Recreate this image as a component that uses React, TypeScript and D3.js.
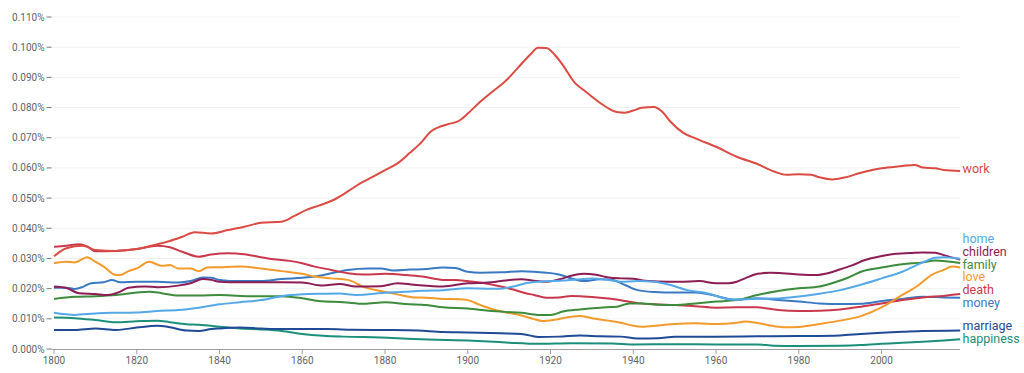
import React from "react";
import * as d3 from "d3";

// ngram frequencies, in percent
type Pt = [number, number];

const work: Pt[] = [
  [1800, 0.0307], [1803, 0.0334], [1807, 0.0342], [1810, 0.0328], [1815, 0.0325], [1820, 0.0331],
  [1825, 0.0347], [1828, 0.0358], [1831, 0.0372], [1834, 0.0387], [1838, 0.0383], [1842, 0.0394],
  [1846, 0.0405], [1850, 0.0418], [1855, 0.0422], [1858, 0.044], [1861, 0.0461], [1864, 0.0475],
  [1868, 0.0497], [1871, 0.0522], [1874, 0.0549], [1877, 0.057], [1880, 0.0593], [1883, 0.0615],
  [1886, 0.065], [1889, 0.0688], [1891, 0.072], [1893, 0.0735], [1895, 0.0744], [1898, 0.0757],
  [1900, 0.078], [1903, 0.0819], [1906, 0.0853], [1909, 0.0886], [1912, 0.093], [1915, 0.0974],
  [1917, 0.0998], [1919, 0.0997], [1921, 0.0975], [1923, 0.094], [1926, 0.088], [1928, 0.0858],
  [1930, 0.0836], [1932, 0.0815], [1934, 0.0797], [1936, 0.0785], [1938, 0.0783], [1940, 0.079],
  [1942, 0.0799], [1945, 0.0802], [1947, 0.0786], [1949, 0.0753], [1952, 0.0717], [1955, 0.0698],
  [1960, 0.067], [1965, 0.0637], [1970, 0.0613], [1974, 0.0588], [1977, 0.0577], [1980, 0.0579],
  [1983, 0.0577], [1985, 0.0569], [1988, 0.0562], [1991, 0.0568], [1995, 0.0584], [2000, 0.0599],
  [2005, 0.0606], [2008, 0.061], [2010, 0.0601], [2013, 0.0599], [2015, 0.0593], [2019, 0.059],
];

const home: Pt[] = [
  [1800, 0.012], [1805, 0.0113], [1810, 0.0118], [1815, 0.012], [1820, 0.0121], [1825, 0.0126],
  [1830, 0.0129], [1835, 0.0137], [1840, 0.0148], [1845, 0.0155], [1850, 0.0162], [1855, 0.0175],
  [1860, 0.0181], [1865, 0.0183], [1869, 0.0184], [1873, 0.0179], [1880, 0.0186], [1885, 0.019],
  [1889, 0.0193], [1894, 0.0195], [1900, 0.0201], [1905, 0.02], [1908, 0.02], [1911, 0.0207],
  [1914, 0.0218], [1917, 0.0223], [1920, 0.0225], [1923, 0.0227], [1927, 0.0231], [1930, 0.0234],
  [1934, 0.0229], [1937, 0.0223], [1941, 0.0225], [1945, 0.0223], [1949, 0.0212], [1953, 0.0195],
  [1958, 0.0184], [1962, 0.0168], [1965, 0.0163], [1968, 0.0166], [1974, 0.0167], [1980, 0.0174],
  [1985, 0.0183], [1990, 0.0195], [1995, 0.0213], [2000, 0.0234], [2005, 0.0256], [2010, 0.0287],
  [2013, 0.0302], [2015, 0.0304], [2019, 0.0299],
];

const children: Pt[] = [
  [1800, 0.0207], [1803, 0.0202], [1806, 0.0185], [1810, 0.0182], [1813, 0.0179], [1816, 0.019],
  [1818, 0.0203], [1822, 0.0207], [1825, 0.0205], [1830, 0.021], [1833, 0.0218], [1836, 0.0232],
  [1838, 0.0229], [1840, 0.0223], [1845, 0.0221], [1850, 0.0221], [1855, 0.0221], [1860, 0.022],
  [1865, 0.021], [1869, 0.0215], [1873, 0.0207], [1879, 0.0208], [1883, 0.0218], [1887, 0.0213],
  [1894, 0.0207], [1900, 0.0218], [1905, 0.022], [1908, 0.0225], [1913, 0.0231], [1916, 0.0226],
  [1919, 0.0223], [1923, 0.0234], [1925, 0.0243], [1928, 0.0249], [1931, 0.0246], [1934, 0.0237],
  [1937, 0.0234], [1940, 0.0233], [1942, 0.0228], [1946, 0.0224], [1951, 0.0223], [1956, 0.0225],
  [1960, 0.0218], [1963, 0.0218], [1965, 0.0223], [1967, 0.0234], [1970, 0.0249], [1973, 0.0253],
  [1976, 0.0251], [1980, 0.0247], [1984, 0.0245], [1987, 0.0251], [1990, 0.0264], [1993, 0.0278],
  [1996, 0.0295], [2000, 0.0308], [2003, 0.0315], [2007, 0.0318], [2010, 0.032], [2013, 0.0319],
  [2015, 0.0311], [2019, 0.0296],
];

const family: Pt[] = [
  [1800, 0.0166], [1805, 0.0173], [1810, 0.0175], [1815, 0.0179], [1820, 0.0187], [1823, 0.019],
  [1826, 0.0185], [1830, 0.0177], [1835, 0.0177], [1840, 0.0179], [1845, 0.0176], [1850, 0.0175],
  [1855, 0.0175], [1860, 0.0168], [1864, 0.0159], [1870, 0.0155], [1875, 0.015], [1880, 0.0155],
  [1885, 0.0149], [1890, 0.0146], [1894, 0.0138], [1900, 0.0134], [1905, 0.0127], [1909, 0.0123],
  [1913, 0.012], [1917, 0.0113], [1920, 0.0113], [1923, 0.0124], [1927, 0.0131], [1932, 0.0137],
  [1936, 0.014], [1939, 0.0151], [1942, 0.0151], [1946, 0.0147], [1950, 0.0146], [1955, 0.0151],
  [1960, 0.0157], [1965, 0.0162], [1970, 0.0179], [1975, 0.0192], [1980, 0.0201], [1985, 0.0207],
  [1988, 0.0218], [1992, 0.0237], [1995, 0.0256], [2000, 0.027], [2005, 0.0281], [2010, 0.0287],
  [2013, 0.0293], [2016, 0.029], [2019, 0.0285],
];

const love: Pt[] = [
  [1800, 0.0284], [1803, 0.0289], [1805, 0.0287], [1808, 0.0304], [1810, 0.0289], [1812, 0.0273],
  [1815, 0.0245], [1816, 0.0245], [1818, 0.0258], [1820, 0.0267], [1823, 0.0289], [1826, 0.0276],
  [1828, 0.0278], [1830, 0.0267], [1833, 0.0267], [1835, 0.0258], [1837, 0.027], [1840, 0.0271],
  [1845, 0.0273], [1850, 0.0267], [1855, 0.0258], [1860, 0.0249], [1863, 0.024], [1867, 0.0234],
  [1871, 0.0229], [1875, 0.0205], [1879, 0.0192], [1883, 0.0181], [1887, 0.0171], [1890, 0.017],
  [1894, 0.0166], [1898, 0.0165], [1900, 0.0162], [1903, 0.0146], [1906, 0.0132], [1909, 0.0122],
  [1913, 0.0111], [1916, 0.0099], [1918, 0.0093], [1921, 0.0097], [1925, 0.0107], [1927, 0.0109],
  [1930, 0.0102], [1934, 0.0094], [1937, 0.0087], [1940, 0.0077], [1942, 0.0074], [1946, 0.0078],
  [1950, 0.0083], [1955, 0.0085], [1960, 0.0083], [1965, 0.0087], [1967, 0.0091], [1970, 0.0086],
  [1975, 0.0074], [1977, 0.0072], [1980, 0.0073], [1985, 0.0083], [1990, 0.0094], [1995, 0.0109],
  [2000, 0.0138], [2005, 0.0179], [2009, 0.0212], [2012, 0.0245], [2015, 0.0262], [2017, 0.0273],
  [2019, 0.027],
];

const death: Pt[] = [
  [1800, 0.0339], [1803, 0.0342], [1806, 0.0347], [1808, 0.034], [1810, 0.0324], [1815, 0.0325],
  [1820, 0.0331], [1825, 0.0342], [1828, 0.0337], [1831, 0.0322], [1835, 0.0306], [1838, 0.0313],
  [1842, 0.0317], [1846, 0.0314], [1850, 0.0304], [1853, 0.0297], [1857, 0.0292], [1860, 0.0284],
  [1863, 0.0273], [1867, 0.0262], [1871, 0.0251], [1875, 0.0247], [1880, 0.0249], [1885, 0.0245],
  [1889, 0.024], [1894, 0.0229], [1897, 0.0229], [1900, 0.0225], [1904, 0.0218], [1908, 0.0207],
  [1911, 0.0197], [1914, 0.0185], [1916, 0.0179], [1919, 0.017], [1922, 0.0171], [1925, 0.0176],
  [1928, 0.0174], [1932, 0.017], [1935, 0.0166], [1938, 0.0159], [1941, 0.0152], [1945, 0.0148],
  [1950, 0.0146], [1955, 0.0142], [1960, 0.0137], [1965, 0.0138], [1970, 0.0138], [1975, 0.0129],
  [1980, 0.0126], [1985, 0.0127], [1990, 0.0131], [1995, 0.014], [2000, 0.0151], [2005, 0.0162],
  [2010, 0.0171], [2015, 0.0176], [2019, 0.0182],
];

const money: Pt[] = [
  [1800, 0.0203], [1803, 0.0203], [1805, 0.0199], [1807, 0.0206], [1809, 0.0218], [1812, 0.0221],
  [1814, 0.0229], [1816, 0.0221], [1820, 0.0223], [1825, 0.0223], [1830, 0.022], [1833, 0.0225],
  [1836, 0.0237], [1838, 0.0236], [1840, 0.0229], [1845, 0.0225], [1850, 0.0225], [1855, 0.0232],
  [1860, 0.0236], [1863, 0.024], [1867, 0.0251], [1871, 0.0262], [1876, 0.0267], [1879, 0.0267],
  [1882, 0.026], [1886, 0.0263], [1890, 0.0265], [1894, 0.027], [1897, 0.0268], [1900, 0.0256],
  [1903, 0.0253], [1908, 0.0254], [1913, 0.0258], [1919, 0.0253], [1922, 0.0247], [1925, 0.0234],
  [1928, 0.0225], [1932, 0.0231], [1935, 0.0229], [1938, 0.0212], [1941, 0.0195], [1945, 0.0189],
  [1950, 0.0187], [1955, 0.0187], [1960, 0.0176], [1963, 0.0166], [1965, 0.0164], [1970, 0.0168],
  [1975, 0.0162], [1980, 0.0157], [1985, 0.0151], [1990, 0.0149], [1995, 0.015], [2000, 0.0159],
  [2005, 0.0166], [2010, 0.0173], [2015, 0.0171], [2019, 0.017],
];

const marriage: Pt[] = [
  [1800, 0.0063], [1805, 0.0063], [1810, 0.0068], [1815, 0.0063], [1820, 0.0071], [1825, 0.0077],
  [1828, 0.0072], [1832, 0.0061], [1835, 0.006], [1838, 0.0066], [1840, 0.0068], [1845, 0.0071],
  [1850, 0.0068], [1855, 0.0066], [1860, 0.0066], [1866, 0.0066], [1872, 0.0064], [1880, 0.0063],
  [1888, 0.0061], [1894, 0.0056], [1900, 0.0055], [1908, 0.0052], [1913, 0.005], [1917, 0.004],
  [1922, 0.0041], [1927, 0.0045], [1932, 0.0042], [1937, 0.0041], [1941, 0.0035], [1946, 0.0036],
  [1950, 0.0041], [1960, 0.0041], [1970, 0.0042], [1980, 0.0043], [1990, 0.0045], [1995, 0.005],
  [2000, 0.0054], [2005, 0.0057], [2010, 0.006], [2019, 0.0061],
];

const happiness: Pt[] = [
  [1800, 0.0104], [1805, 0.0102], [1810, 0.0096], [1815, 0.0089], [1820, 0.0092], [1825, 0.0094],
  [1828, 0.0089], [1832, 0.0082], [1835, 0.008], [1840, 0.0074], [1845, 0.0068], [1850, 0.0065],
  [1855, 0.006], [1860, 0.005], [1865, 0.0044], [1870, 0.0041], [1879, 0.0038], [1887, 0.0033],
  [1895, 0.003], [1900, 0.0028], [1905, 0.0025], [1910, 0.0021], [1917, 0.0017], [1925, 0.0019],
  [1935, 0.0018], [1940, 0.0015], [1950, 0.0016], [1960, 0.0015], [1970, 0.0015], [1974, 0.0011],
  [1980, 0.001], [1990, 0.0011], [1995, 0.0013], [2000, 0.0017], [2005, 0.0021], [2010, 0.0024],
  [2015, 0.0028], [2019, 0.0032],
];

const series = [
  { name: "work", color: "#db4a43", data: work },
  { name: "home", color: "#55a8e8", data: home },
  { name: "children", color: "#8c1d55", data: children },
  { name: "family", color: "#3d8b3d", data: family },
  { name: "love", color: "#f29a2b", data: love },
  { name: "death", color: "#c9384c", data: death },
  { name: "money", color: "#3b78c2", data: money },
  { name: "marriage", color: "#1f4a96", data: marriage },
  { name: "happiness", color: "#1b8f7a", data: happiness },
];

const yTicks = d3.range(0, 12).map((i) => i * 0.01);
const xTicks = d3.range(1800, 2001, 20);

const width = 1024;
const height = 373;

export default function App() {
  const x = d3.scaleLinear().domain([1800, 2019]).range([54, 960.2]);
  const y = d3.scaleLinear().domain([0, 0.11]).range([349, 17]);

  const line = d3
    .line<Pt>()
    .x((d) => x(d[0]))
    .y((d) => y(d[1]))
    .curve(d3.curveMonotoneX);

  // end labels, pushed apart so they don't overlap
  const gap = 12.7;
  const items = series
    .map((s) => ({ name: s.name, color: s.color, target: y(s.data[s.data.length - 1][1]) }))
    .sort((a, b) => a.target - b.target);
  let blocks = items.map((it) => ({ items: [it], top: it.target }));
  let moved = true;
  while (moved) {
    moved = false;
    for (let i = 1; i < blocks.length; i++) {
      const prev = blocks[i - 1];
      const cur = blocks[i];
      if (prev.top + prev.items.length * gap > cur.top) {
        const all = prev.items.concat(cur.items);
        const mean = d3.mean(all, (d) => d.target) as number;
        blocks.splice(i - 1, 2, { items: all, top: mean - ((all.length - 1) * gap) / 2 });
        moved = true;
        break;
      }
    }
  }
  const labels = blocks.flatMap((b) => b.items.map((it, i) => ({ ...it, y: b.top + i * gap })));

  return (
    <svg
      width={width}
      height={height}
      style={{ position: "absolute", left: 0, top: 0, fontFamily: "Roboto, sans-serif" }}
    >
      <rect width={width} height={height} fill="#fff" />
      {yTicks.map((t) => (
        <g key={t}>
          {t > 0 && <line x1={52} x2={960} y1={y(t)} y2={y(t)} stroke="#f2f2f2" strokeWidth={1} />}
          <line x1={46.5} x2={51.5} y1={y(t)} y2={y(t)} stroke="#777" strokeWidth={1} />
          <text x={44.5} y={y(t)} dy="0.35em" textAnchor="end" fontSize={10} fill="#5f6368">
            {t.toFixed(3) + "%"}
          </text>
        </g>
      ))}
      <line x1={51.5} x2={960} y1={349.5} y2={349.5} stroke="#9e9e9e" strokeWidth={1} />
      {xTicks.map((t) => (
        <g key={t}>
          <line x1={x(t)} x2={x(t)} y1={349.5} y2={354} stroke="#9e9e9e" strokeWidth={1} />
          <text x={x(t)} y={364} textAnchor="middle" fontSize={10} fill="#5f6368">
            {t}
          </text>
        </g>
      ))}
      {series
        .slice()
        .reverse()
        .map((s) => (
          <path key={s.name} d={line(s.data) || ""} fill="none" stroke={s.color} strokeWidth={2} />
        ))}
      {labels.map((l) => (
        <text key={l.name} x={962.5} y={l.y - 2.7} dy="0.35em" fontSize={12.5} fill={l.color}>
          {l.name}
        </text>
      ))}
    </svg>
  );
}
